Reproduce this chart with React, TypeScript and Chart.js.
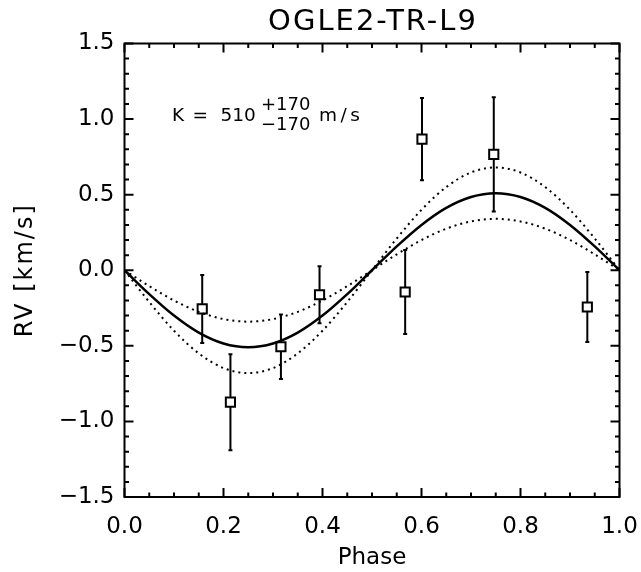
import React, { useEffect, useRef } from "react";
import { Chart, registerables } from "chart.js";

Chart.register(...registerables);

// ---- text ----
const titleText = "OGLE2-TR-L9";
const xAxisTitle = "Phase";
const yAxisTitle = "RV [km/s]";
const kLabel = "K";
const kEquals = "=";
const kValue = "510";
const kPlus = "+170";
const kMinus = "\u2212170";
const kUnit = "m/s";

// ---- observations ----
const obsPhase = [0.157, 0.214, 0.316, 0.394, 0.567, 0.601, 0.746, 0.935];
const obsRV = [-0.256, -0.873, -0.506, -0.162, -0.144, 0.868, 0.767, -0.243];
const obsErr = [0.225, 0.318, 0.213, 0.188, 0.278, 0.272, 0.378, 0.231];

// ---- model curves ----
const curvePhase = [0, 0.05, 0.1, 0.15, 0.2, 0.25, 0.3, 0.35, 0.4, 0.45, 0.5, 0.55, 0.6, 0.65, 0.7, 0.75, 0.8, 0.85, 0.9, 0.95, 1.0];
const modelRV = [0, -0.158, -0.3, -0.413, -0.485, -0.51, -0.485, -0.413, -0.3, -0.158, 0, 0.158, 0.3, 0.413, 0.485, 0.51, 0.485, 0.413, 0.3, 0.158, 0];
const modelLowK = [0, -0.105, -0.2, -0.275, -0.323, -0.34, -0.323, -0.275, -0.2, -0.105, 0, 0.105, 0.2, 0.275, 0.323, 0.34, 0.323, 0.275, 0.2, 0.105, 0];
const modelHighK = [0, -0.21, -0.4, -0.55, -0.647, -0.68, -0.647, -0.55, -0.4, -0.21, 0, 0.21, 0.4, 0.55, 0.647, 0.68, 0.647, 0.55, 0.4, 0.21, 0];

// ---- axes ----
const xTicks = [0, 0.2, 0.4, 0.6, 0.8, 1.0];
const yTicks = [-1.5, -1.0, -0.5, 0, 0.5, 1.0, 1.5];
const xMinorPerMajor = 4;
const yMinorPerMajor = 5;

const FONT = '"DejaVu Sans", "Liberation Sans", sans-serif';

function fmt(v: number): string {
  const s = Math.abs(v).toFixed(1);
  return v < -1e-9 ? "\u2212" + s : s;
}

function minorValues(majors: number[], per: number): number[] {
  const out: number[] = [];
  for (let i = 0; i < majors.length - 1; i++) {
    const step = (majors[i + 1] - majors[i]) / per;
    for (let k = 1; k < per; k++) out.push(majors[i] + step * k);
  }
  return out;
}

const POINTS_INDEX = 3;

const framePlugin = {
  id: "frameAndBars",
  beforeDatasetDraw(chart: any, args: any) {
    if (args.index !== POINTS_INDEX) return;
    const { ctx, scales } = chart;
    const x = scales.x;
    const y = scales.y;
    ctx.save();
    ctx.strokeStyle = "#000";
    ctx.lineWidth = 2;
    for (let i = 0; i < obsPhase.length; i++) {
      const px = x.getPixelForValue(obsPhase[i]);
      const top = y.getPixelForValue(obsRV[i] + obsErr[i]);
      const bot = y.getPixelForValue(obsRV[i] - obsErr[i]);
      ctx.beginPath();
      ctx.moveTo(px, top);
      ctx.lineTo(px, bot);
      ctx.moveTo(px - 2, top);
      ctx.lineTo(px + 2, top);
      ctx.moveTo(px - 2, bot);
      ctx.lineTo(px + 2, bot);
      ctx.stroke();
    }
    ctx.restore();
  },
  afterDraw(chart: any) {
    const { ctx, chartArea: a, scales } = chart;
    const x = scales.x;
    const y = scales.y;
    ctx.save();
    ctx.strokeStyle = "#000";
    ctx.lineWidth = 2;
    ctx.lineCap = "square";
    ctx.beginPath();
    ctx.moveTo(a.left, a.top);
    ctx.lineTo(a.right, a.top);
    ctx.lineTo(a.right, a.bottom);
    ctx.lineTo(a.left, a.bottom);
    ctx.closePath();
    ctx.stroke();
    ctx.lineCap = "butt";
    const majorLen = 9;
    const minorLen = 4.5;
    ctx.beginPath();
    const xt = (v: number, len: number) => {
      const px = x.getPixelForValue(v);
      ctx.moveTo(px, a.bottom);
      ctx.lineTo(px, a.bottom - len);
      ctx.moveTo(px, a.top);
      ctx.lineTo(px, a.top + len);
    };
    const yt = (v: number, len: number) => {
      const py = y.getPixelForValue(v);
      ctx.moveTo(a.left, py);
      ctx.lineTo(a.left + len, py);
      ctx.moveTo(a.right, py);
      ctx.lineTo(a.right - len, py);
    };
    xTicks.forEach((v) => xt(v, majorLen));
    minorValues(xTicks, xMinorPerMajor).forEach((v) => xt(v, minorLen));
    yTicks.forEach((v) => yt(v, majorLen));
    minorValues(yTicks, yMinorPerMajor).forEach((v) => yt(v, minorLen));
    ctx.stroke();

    ctx.fillStyle = "#000";
    ctx.textBaseline = "alphabetic";

    // title, centred over the plot
    ctx.textAlign = "center";
    ctx.font = `29px ${FONT}`;
    (ctx as any).letterSpacing = "2px";
    ctx.fillText(titleText, (a.left + a.right) / 2 + 1, 29.5);

    // y axis title, rotated, centred on the plot height
    ctx.save();
    ctx.translate(32, (a.top + a.bottom) / 2 + 1);
    ctx.rotate(-Math.PI / 2);
    ctx.font = `24px ${FONT}`;
    (ctx as any).letterSpacing = "2px";
    ctx.fillText(yAxisTitle, 1, 0);
    ctx.restore();

    // annotation
    ctx.textAlign = "left";
    const bx = a.left;
    const by = a.top;
    (ctx as any).letterSpacing = "0px";
    ctx.font = `18.5px ${FONT}`;
    ctx.fillText(kLabel, bx + 47.5, by + 77.5);
    ctx.fillText(kEquals, bx + 68, by + 77.5);
    ctx.fillText(kValue, bx + 96, by + 77.5);
    ctx.font = `18px ${FONT}`;
    ctx.fillText(kPlus, bx + 136.5, by + 66.5);
    ctx.fillText(kMinus, bx + 136.5, by + 86.5);
    ctx.font = `18.5px ${FONT}`;
    (ctx as any).letterSpacing = "3.5px";
    ctx.fillText(kUnit, bx + 194.5, by + 77.5);
    (ctx as any).letterSpacing = "0px";
    ctx.restore();
  },
};

export default function App() {
  const canvasRef = useRef<HTMLCanvasElement | null>(null);

  useEffect(() => {
    if (!canvasRef.current) return;
    const toXY = (xs: number[], ys: number[]) => xs.map((v, i) => ({ x: v, y: ys[i] }));
    const tickFont = { family: FONT, size: 23, lineHeight: 1.2 };
    const chart = new Chart(canvasRef.current, {
      type: "scatter",
      data: {
        datasets: [
          {
            label: "model",
            data: toXY(curvePhase, modelRV),
            showLine: true,
            borderColor: "#000",
            borderWidth: 2.5,
            pointRadius: 0,
            cubicInterpolationMode: "monotone",
          },
          {
            label: "K-",
            data: toXY(curvePhase, modelLowK),
            showLine: true,
            borderColor: "#000",
            borderWidth: 2,
            borderDash: [2, 4],
            pointRadius: 0,
            cubicInterpolationMode: "monotone",
          },
          {
            label: "K+",
            data: toXY(curvePhase, modelHighK),
            showLine: true,
            borderColor: "#000",
            borderWidth: 2,
            borderDash: [2, 4],
            pointRadius: 0,
            cubicInterpolationMode: "monotone",
          },
          {
            label: "data",
            data: toXY(obsPhase, obsRV),
            showLine: false,
            pointStyle: "rect",
            pointRadius: 6.5,
            pointBorderWidth: 2,
            pointBackgroundColor: "#fff",
            pointBorderColor: "#000",
          },
        ] as any,
      },
      options: {
        animation: false,
        responsive: true,
        maintainAspectRatio: false,
        layout: { padding: { left: 0, right: 21.5, top: 43.5, bottom: 0 } },
        plugins: {
          legend: { display: false },
          tooltip: { enabled: false },
          title: { display: false },
        },
        scales: {
          x: {
            type: "linear",
            min: 0,
            max: 1,
            afterBuildTicks: (s: any) => {
              s.ticks = xTicks.map((v) => ({ value: v }));
            },
            afterFit: (s: any) => {
              s.height = 75;
              s.paddingLeft = 0;
              s.paddingRight = 0;
            },
            grid: { display: false, drawTicks: false },
            border: { display: false },
            ticks: {
              color: "#000",
              font: tickFont,
              padding: 16,
              maxRotation: 0,
              autoSkip: false,
              callback: (v: any) => fmt(Number(v)),
            },
            title: {
              display: true,
              text: xAxisTitle,
              color: "#000",
              font: tickFont,
              padding: { top: 0, bottom: 0 },
            },
          },
          y: {
            type: "linear",
            min: -1.5,
            max: 1.5,
            afterBuildTicks: (s: any) => {
              s.ticks = yTicks.map((v) => ({ value: v }));
            },
            afterFit: (s: any) => {
              s.width = 124.5;
              s.paddingTop = 0;
              s.paddingBottom = 0;
            },
            grid: { display: false, drawTicks: false },
            border: { display: false },
            ticks: {
              color: "#000",
              font: tickFont,
              padding: 10,
              autoSkip: false,
              callback: (v: any) => fmt(Number(v)),
            },
            title: { display: false },
          },
        },
      },
      plugins: [framePlugin as any],
    });
    return () => chart.destroy();
  }, []);

  return (
    <div style={{ position: "absolute", left: 0, top: 0, width: 641, height: 572, background: "#fff" }}>
      <canvas ref={canvasRef} aria-label={titleText} />
    </div>
  );
}
